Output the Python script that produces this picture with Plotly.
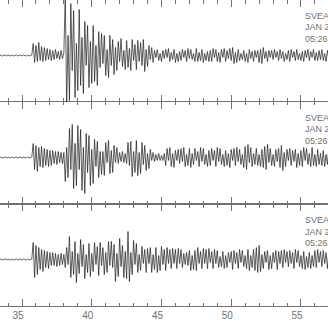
import plotly.graph_objects as go

T0 = 33.4
DT = 0.1

noise = [0, 0.5, -0.5, 0, 0.5, -0.5, 0.5, 0, -0.5, 0.5, -0.5, 0, 0.5, -0.5, 0, 0.5, -0.5, 0.5, 0, -0.5, 0.5, -0.5, 0, 0.5]

trace_a = noise + [
    12, -7, 10, -6, 13, -5, 9, -6, 8, -5, 7, -4, 6, -5, 5, -4, 6, -3, 4, -4, 5, -3, 3,
    60, -50, 20, -45, 52, -15, 45, -42, 12, -35, 46, -30, 18, -38, 34, -10, 30, -32, 14, -28,
    30, -26, 10, -30, 24, -12,
    22, -8, 20, -20, 6, -22, 20, -10, 16, -19, 8, -15, 14, -6, 17, -11, 5, -14, 15, -12,
    7, -15, 16, -5, 11, -14, 15, -6, 13, -10, 16, -16, 6, -11, 10, -4, 8, -7,
    5, -2, 6, -5, 2, -6, 5, -3, 6, -2, 7, -6, 3, -4, 6, -7, 2, -6, 4, -5,
    6, -2, 5, -6, 7, -3, 6, -4, 2, -6, 7, -6, 3, -5, 6, -7, 2, -5, 4, -6, 5,
    -6, 7, -2, 6, -6, 3, -7, 6, -2, 7, -6, 5, -3, 7, -5, 8, -8, 3, -7, 6,
    -5, 2, -4, 5, -6, 2, -7, 6, -3, 4, -6, 5, -2, 5, -7, 6, -8, 8, -3, 4,
    -6, 5, -2, 5, -4, 6, -2, 4, -5, 6, -3, 4, -6, 2, -4, 5, -6, 6, -2, 4,
    -5, 6, -4, 2, -5, 4, -6, 5, -2, 6, -5, 4, -2, 6, -5, 3, -5, 5, -4, 6,
    -5, 2, -6, 5, -4,
]

trace_b = noise + [
    14, -12, 12, -14, 10, -9, 11, -10, 9, -8, 8, -9, 7, -8, 7, -6, 6, -7, 6, -5, 5, -6, 5,
    -24, 10, -20, 29, -12, 33, -31, 14, -28, 32, -12, 28, -33, 10, -36, 24, -15, 22, -28, 8,
    -26, 18, -9, 16, -20, 6,
    -17, 6, -18, 15, -5, 17, -16, 7, -15, 12, -5, 10,
    -6, 5, -4, 6, -5, 4, -6,
    15, -8, 16, -19, 6, -15, 17, -18, 5, -16, 15, -7, 12, -13, 4, -11, 8, -3, 5,
    -4, 3, -3, 4, -3, 2, -3, 4,
    -8, 9, -3, 10, -9, 4, -10, 7, -3, 8, -6, 9, -4, 10, -9, 3, -8, 9, -10, 4,
    -7, 9, -3, 6, -9, 10, -4, 9, -7, 3, -9, 7, -8,
    9, -3, 7, -9, 10, -4, 9, -7, 3, -9, 7, -8, 4, -10, 8, -3, 9, -8, 10, -4,
    8, -7, 3, -10, 11, -12, 13, -5, 10, -9, 4, -7, 9, -8, 3, -9, 8, -10, 11, -12,
    13, -5, 9, -8, 3, -9, 8, -4, 9, -10, 12, -13, 5, -9, 8, -3, 9, -8, 7, -4,
    8, -10, 4, -8, 7, -9, 10, -3, 9, -7, 4, -9, 10, -8, 3, -9, 8, -7, 4, -8,
    7, -9, 3, -7, 9,
]

trace_c = noise + [
    17, -18, 14, -15, 12, -10, 10, -12, 9, -8, 8, -9, 7, -6, 7, -6, 6, -7, 5, -6, 6, -5, 5,
    -8, 12, -5, 23, -18, 8, -15, 18, -23, 6, -14, 20, -7, 15, -19, 5, -13, 16, -17, 6,
    -12, 17, -5, 13, -16, 17, -6, 12, -15, 7, -13, 18, -6,
    18, -8, 15, -22, 6, -17, 21, -7, 14, -18, 8, -19, 28, -22, 7, -15, 19, -5, 16,
    -13, 5, -11, 13, -4, 10, -13, 11, -4, 12, -13, 5, -10, 12, -13, 4, -11, 13, -5, 10,
    -11, 12, -4, 10, -9, 11, -4, 10,
    -9, 11, -4, 10, -8, 6, -5, 7, -6, 9, -11, 4, -10, 9, -11, 12, -4, 8, -9, 11,
    -4, 10, -9, 11, -3, 8, -9, 10, -4, 9,
    -8, 3, -7, 8, -9, 4, -8, 7, -3, 8, -10, 9, -4, 7, -9, 10, -3, 9, -7, 4,
    -9, 10, -11, 4, -8, 10, -11, 12, -13, 14, -12, 5, -9, 8, -3, 9, -10, 4, -9, 7,
    -3, 9, -10, 8, -4, 9, -8, 10, -3, 8, -7, 9, -4, 7, -9, 10, -3, 9, -7, 4,
    -9, 8, -10, 3, -8, 7, -9, 4, -7, 9, -8, 10, -3, 8, -7, 9, -4, 7, -9, 8,
]

station = "SVEA"
date_label = "JAN 20 2001"
time_label = "05:26:40.0"
x_ticks = [35, 40, 45, 50, 55]

X_RANGE = [33.42, 56.94]
Y_RANGE = [-46.5, 55.5]
GRAY = "#707070"
FONT = "Liberation Sans Narrow, Liberation Sans, Arial"


def times(vals):
    return [T0 + DT * i for i in range(len(vals))]


fig = go.Figure()
for vals, xa, ya in [(trace_a, "x3", "y"), (trace_b, "x2", "y2"), (trace_c, "x", "y3")]:
    fig.add_trace(go.Scatter(x=times(vals), y=vals, xaxis=xa, yaxis=ya, mode="lines",
                             line=dict(color="#1a1a1a", width=0.7), hoverinfo="skip",
                             showlegend=False))

common_x = dict(range=X_RANGE, showgrid=False, zeroline=False, ticks="inside", ticklen=7,
                tickwidth=1, tickcolor=GRAY, tickmode="array", tickvals=x_ticks,
                mirror="ticks", showline=True, linecolor=GRAY, linewidth=1,
                minor=dict(ticks="inside", ticklen=3.5, dtick=1, tick0=0, tickcolor=GRAY,
                           tickwidth=1, showgrid=False))

fig.update_layout(
    width=328, height=328, margin=dict(l=0, r=0, t=0, b=22),
    paper_bgcolor="white", plot_bgcolor="white",
    xaxis=dict(**common_x, anchor="y3", showticklabels=True,
               ticktext=[str(v) for v in x_ticks],
               tickfont=dict(family=FONT, size=10, color=GRAY), ticklabelshift=-4),
    xaxis2=dict(**common_x, anchor="y2", showticklabels=False, matches="x"),
    xaxis3=dict(**{**common_x, "linecolor": "rgba(0,0,0,0)"}, anchor="y",
                showticklabels=False, matches="x"),
    yaxis=dict(domain=[0.6667, 1.0], range=Y_RANGE, visible=False, fixedrange=True),
    yaxis2=dict(domain=[0.3333, 0.6667], range=Y_RANGE, visible=False, fixedrange=True),
    yaxis3=dict(domain=[0.0, 0.3333], range=Y_RANGE, visible=False, fixedrange=True),
)

for yref in ["y domain", "y2 domain", "y3 domain"]:
    for k, txt in enumerate([station, date_label, time_label]):
        fig.add_annotation(text=txt, xref="paper", x=303 / 328, xanchor="left",
                           yref=yref, y=1 - (16 + 11.5 * k) / 102, yanchor="middle",
                           showarrow=False, font=dict(family=FONT, size=9, color=GRAY))

fig.write_html("out.html")
